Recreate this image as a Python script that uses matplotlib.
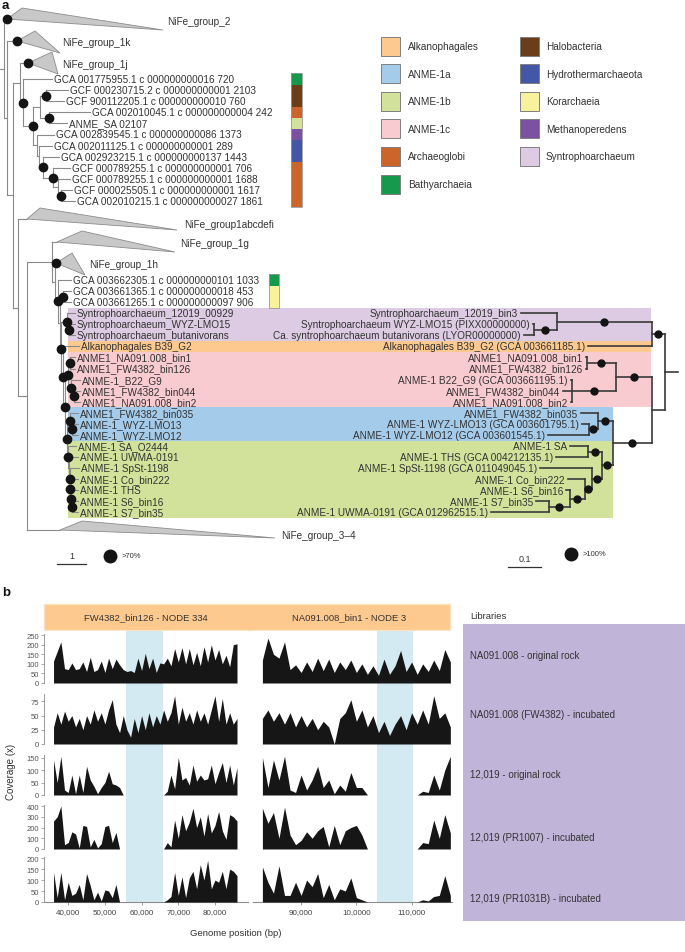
import numpy as np
import matplotlib
matplotlib.use('Agg')
import matplotlib.pyplot as plt
from matplotlib.patches import Rectangle, Polygon

plt.rcParams['font.family'] = ['Liberation Sans', 'DejaVu Sans']

# ------------------------------------------------------------------ data
tax_names = ['Alkanophagales', 'ANME-1a', 'ANME-1b', 'ANME-1c', 'Archaeoglobi', 'Bathyarchaeia',
             'Halobacteria', 'Hydrothermarchaeota', 'Korarchaeia', 'Methanoperedens', 'Syntrophoarchaeum']
tax_colors = ['#fdc98f', '#a4cbea', '#d3e29b', '#f8cbd0', '#cc6529', '#17994b',
              '#6b3d18', '#4357a6', '#f8f29c', '#7b52a2', '#dccbe2']
legend_col1 = tax_names[:6]
legend_col2 = tax_names[6:]

upper_leaves = ['GCA 001775955.1 c 000000000016 720', 'GCF 000230715.2 c 000000000001 2103',
                'GCF 900112205.1 c 000000000010 760', 'GCA 002010045.1 c 000000000004 242',
                'ANME_SA 02107', 'GCA 002839545.1 c 000000000086 1373',
                'GCA 002011125.1 c 000000000001 289', 'GCA 002923215.1 c 000000000137 1443',
                'GCF 000789255.1 c 000000000001 706', 'GCF 000789255.1 c 000000000001 1688',
                'GCF 000025505.1 c 000000000001 1617', 'GCA 002010215.1 c 000000000027 1861']
upper_tax = ['Bathyarchaeia', 'Halobacteria', 'Halobacteria', 'Archaeoglobi', 'ANME-1b',
             'Methanoperedens', 'Hydrothermarchaeota', 'Hydrothermarchaeota',
             'Archaeoglobi', 'Archaeoglobi', 'Archaeoglobi', 'Archaeoglobi']
lower_leaves = ['GCA 003662305.1 c 000000000101 1033', 'GCA 003661365.1 c 000000000018 453',
                'GCA 003661265.1 c 000000000097 906']
lower_tax = ['Bathyarchaeia', 'Korarchaeia', 'Korarchaeia']
clade_left = ['Syntrophoarchaeum_12019_00929', 'Syntrophoarchaeum_WYZ-LMO15',
              'Syntrophoarchaeum_butanivorans', 'Alkanophagales B39_G2',
              'ANME1_NA091.008_bin1', 'ANME1_FW4382_bin126', 'ANME-1_B22_G9',
              'ANME1_FW4382_bin044', 'ANME1_NA091.008_bin2', 'ANME1_FW4382_bin035',
              'ANME-1_WYZ-LMO13', 'ANME-1_WYZ-LMO12', 'ANME-1 SA_O2444', 'ANME-1 UWMA-0191',
              'ANME-1 SpSt-1198', 'ANME-1 Co_bin222', 'ANME-1 THS', 'ANME-1 S6_bin16',
              'ANME-1 S7_bin35']
clade_right = ['Syntrophoarchaeum_12019_bin3', 'Syntrophoarchaeum WYZ-LMO15 (PIXX00000000)',
               'Ca. syntrophoarchaeum butanivorans (LYOR00000000)',
               'Alkanophagales B39_G2 (GCA 003661185.1)', 'ANME1_NA091.008_bin1',
               'ANME1_FW4382_bin126', 'ANME-1 B22_G9 (GCA 003661195.1)', 'ANME1_FW4382_bin044',
               'ANME1_NA091.008_bin2', 'ANME1_FW4382_bin035', 'ANME-1 WYZ-LMO13 (GCA 003601795.1)',
               'ANME-1 WYZ-LMO12 (GCA 003601545.1)', 'ANME-1 SA', 'ANME-1 THS (GCA 004212135.1)',
               'ANME-1 SpSt-1198 (GCA 011049045.1)', 'ANME-1 Co_bin222', 'ANME-1 S6_bin16',
               'ANME-1 S7_bin35', 'ANME-1 UWMA-0191 (GCA 012962515.1)']
clade_groups = [('Syntrophoarchaeum', 0, 2), ('Alkanophagales', 3, 3), ('ANME-1c', 4, 8),
                ('ANME-1a', 9, 11), ('ANME-1b', 12, 18)]
collapsed = ['NiFe_group_2', 'NiFe_group_1k', 'NiFe_group_1j', 'NiFe_group1abcdefi',
             'NiFe_group_1g', 'NiFe_group_1h', 'NiFe_group_3\u20134']

panel_titles = ['FW4382_bin126 - NODE 334', 'NA091.008_bin1 - NODE 3']
libraries = ['NA091.008 - original rock', 'NA091.008 (FW4382) - incubated',
             '12,019 - original rock', '12,019 (PR1007) - incubated',
             '12,019 (PR1031B) - incubated']

pos_left = np.arange(36, 87) * 1000      # FW4382_bin126 contig positions (bp)
pos_right = np.arange(83, 118) * 1000    # NA091.008_bin1 contig positions (bp)
shade_left = (55700, 65800)
shade_right = (103700, 110300)
ticks_left = [40000, 50000, 60000, 70000, 80000]
ticklabels_left = ['40,000', '50,000', '60,000', '70,000', '80,000']
ticks_right = [90000, 100000, 110000]
ticklabels_right = ['90,000', '10,0000', '110,000']

cov_na_rock_L = [115, 165, 215, 75, 70, 105, 70, 75, 110, 60, 135, 60, 70, 115, 55, 130, 75, 125, 95,
                 70, 60, 65, 55, 130, 65, 155, 75, 130, 55, 105, 100, 130, 90, 180, 110, 185, 100,
                 180, 95, 160, 90, 190, 110, 200, 120, 175, 100, 145, 85, 200, 205]
cov_na_rock_R = [120, 235, 150, 130, 215, 70, 95, 55, 110, 60, 130, 65, 125, 55, 110, 70, 120, 55,
                 100, 45, 90, 40, 125, 45, 90, 170, 60, 110, 45, 100, 60, 120, 65, 175, 110]
cov_na_inc_L = [30, 55, 35, 58, 40, 50, 30, 45, 25, 50, 35, 60, 40, 55, 35, 60, 78, 35, 20, 50, 25,
                12, 45, 20, 50, 25, 55, 30, 50, 35, 60, 40, 55, 85, 35, 65, 40, 55, 35, 60, 40, 55,
                35, 60, 85, 40, 80, 35, 55, 35, 45]
cov_na_inc_R = [45, 60, 40, 55, 35, 55, 30, 50, 30, 45, 25, 40, 30, 0, 45, 55, 78, 40, 60, 30, 50,
                20, 40, 15, 35, 50, 25, 55, 35, 60, 35, 85, 45, 55, 30]
cov_12_rock_L = [140, 50, 155, 20, 10, 80, 5, 80, 10, 115, 60, 35, 5, 30, 50, 95, 45, 40, 30, 0, 0,
                 0, 0, 0, 0, 0, 0, 0, 0, 0, 0, 15, 80, 25, 150, 60, 70, 40, 120, 55, 80, 60, 65, 120,
                 45, 90, 130, 50, 120, 40, 110]
cov_12_rock_R = [150, 30, 140, 60, 155, 20, 10, 80, 20, 60, 115, 30, 60, 5, 40, 15, 90, 30, 30, 0,
                 0, 0, 0, 0, 0, 0, 0, 0, 0, 15, 10, 80, 20, 100, 155]
cov_pr1007_L = [260, 300, 400, 40, 60, 160, 140, 10, 220, 210, 20, 90, 10, 50, 210, 220, 60, 155,
                0, 0, 0, 0, 0, 0, 0, 0, 0, 0, 0, 0, 0, 60, 20, 270, 100, 320, 170, 250, 380, 200,
                300, 120, 330, 150, 220, 350, 170, 90, 320, 300, 260]
cov_pr1007_R = [380, 240, 340, 100, 390, 130, 40, 80, 160, 100, 170, 210, 20, 220, 40, 170, 200,
                220, 130, 0, 0, 0, 0, 0, 0, 0, 0, 0, 0, 60, 50, 270, 100, 320, 150]
cov_pr1031_L = [135, 20, 135, 10, 90, 30, 40, 80, 10, 130, 75, 10, 45, 5, 55, 50, 20, 80, 0, 0, 0,
                0, 0, 0, 0, 0, 0, 0, 0, 0, 0, 10, 25, 135, 30, 115, 20, 110, 140, 60, 170, 100, 190,
                60, 100, 90, 140, 60, 150, 140, 120]
cov_pr1031_R = [160, 90, 40, 165, 30, 30, 90, 30, 100, 70, 130, 20, 80, 10, 60, 50, 110, 20, 10, 0,
                0, 0, 0, 0, 0, 0, 0, 0, 0, 10, 5, 25, 30, 120, 30]
coverage = [(cov_na_rock_L, cov_na_rock_R), (cov_na_inc_L, cov_na_inc_R),
            (cov_12_rock_L, cov_12_rock_R), (cov_pr1007_L, cov_pr1007_R),
            (cov_pr1031_L, cov_pr1031_R)]
row_ymax = [256, 88, 160, 410, 205]
row_ticks = [[0, 50, 100, 150, 200, 250], [0, 25, 50, 75], [0, 50, 100, 150],
             [0, 100, 200, 300, 400], [0, 50, 100, 150, 200]]

# ------------------------------------------------------------------ figure
W, H = 685, 953
fig = plt.figure(figsize=(W / 100, H / 100), dpi=100)
ax = fig.add_axes([0, 0, 1, 1])
ax.set_xlim(0, W)
ax.set_ylim(H, 0)
ax.axis('off')

TXT = '#333333'
FS = 7.2
cmap = dict(zip(tax_names, tax_colors))

# row layout for tree
upper_rows = [80 + 11.1 * i for i in range(12)]
lower_rows = [281 + 11.07 * i for i in range(22)]
clade_rows = lower_rows[3:]

# clade background boxes
for name, i0, i1 in clade_groups:
    right = 651 if name in ('Syntrophoarchaeum', 'Alkanophagales', 'ANME-1c') else 613
    y0 = clade_rows[i0] - 5.53
    y1 = clade_rows[i1] + 5.53
    ax.add_patch(Rectangle((68, y0), right - 68, y1 - y0, fc=cmap[name], ec='none', zorder=0))

# taxonomy colour strips
def strip(x0, x1, rows, taxa):
    for r, t in zip(rows, taxa):
        ax.add_patch(Rectangle((x0, r - 5.55), x1 - x0, 11.1, fc=cmap[t], ec='none', zorder=1))
    ax.add_patch(Rectangle((x0, rows[0] - 5.55), x1 - x0, rows[-1] - rows[0] + 11.1,
                           fc='none', ec='#999999', lw=0.6, zorder=2))

strip(291, 302, upper_rows, upper_tax)
strip(269, 279, lower_rows[:3], lower_tax)

# ---------------- left tree
LINE_L = '#8a8a8a'
DOT = '#141414'

def Nd(x, ch, dot=False):
    return ('N', x, ch, dot)

def Lf(name, lx):
    return ('L', name, lx)

def Cl(name, apex, top, right, lx, ldy, dot):
    return ('C', name, apex, top, right, lx, ldy, dot)

UL = [Lf(n, x) for n, x in zip(upper_leaves, [54, 70, 66, 92, 69, 56, 54, 61, 72, 72, 74, 77])]
LL = [Lf(n, 73) for n in lower_leaves]
CL = [Lf(n, x) for n, x in zip(clade_left, [77, 77, 77, 81, 77, 77, 82, 82, 82, 80, 80, 80,
                                             78, 80, 81, 80, 80, 80, 80])]

left_tree = Nd(4, [
    Cl(collapsed[0], 7, (22, -11), (163, 11), 167, 2, True),
    Nd(7, [
        Cl(collapsed[1], 17, (35, -10), (60, 12), 62, 1, True),
        Nd(13, [
            Nd(20, [
                Cl(collapsed[2], 28, (52, -11), (58, 11), 62, 1, True),
                Nd(23, [
                    UL[0],
                    Nd(33, [
                        Nd(40, [Nd(46, [UL[1], UL[2]], True), Nd(49, [UL[3], UL[4]], True)]),
                        Nd(37, [UL[5], Nd(39, [UL[6], Nd(43, [UL[7], Nd(53, [UL[8], Nd(58, [UL[9],
                            Nd(61, [UL[10], UL[11]], True)])], True)], True)])]),
                    ], True),
                ], True),
            ]),
            Nd(18, [
                Cl(collapsed[3], 27, (40, -11), (177, 11), 184, 5, False),
                Nd(27, [
                    Nd(52, [
                        Cl(collapsed[4], 57, (82, -11), (175, 10), 180, 1, False),
                        Nd(55, [
                            Cl(collapsed[5], 56, (72, -10), (85, 12), 89, 1, True),
                            Nd(58, [
                                LL[0],
                                Nd(60, [
                                    Nd(63, [LL[1], LL[2]], True),
                                    Nd(61, [
                                        Nd(67, [CL[0], Nd(69, [CL[1], CL[2]], True)], True),
                                        Nd(63, [
                                            CL[3],
                                            Nd(65, [
                                                Nd(68, [Nd(70, [CL[4], CL[5]], True),
                                                        Nd(71, [CL[6], Nd(74, [CL[7], CL[8]], True)], True)], True),
                                                Nd(67, [
                                                    Nd(70, [CL[9], Nd(72, [CL[10], CL[11]], True)], True),
                                                    Nd(68, [CL[12], Nd(69, [CL[13], Nd(70, [CL[14],
                                                        Nd(70, [CL[15], Nd(71, [CL[16],
                                                            Nd(72, [CL[17], CL[18]], True)], True)], True)], True)])], True),
                                                ], True),
                                            ], True),
                                        ], True),
                                    ], True),
                                ]),
                            ], True),
                        ]),
                    ]),
                    Cl(collapsed[6], 60, (82, -9), (275, 8), 281, 5, False),
                ]),
            ]),
        ]),
    ]),
])

left_rows = [20, 42, 64] + upper_rows + [220, 243, 264] + lower_rows + [531]


def draw_left(node, px, it):
    kind = node[0]
    if kind == 'L':
        y = next(it)
        ax.plot([px, node[2] - 2], [y, y], color=LINE_L, lw=0.8, zorder=3)
        ax.text(node[2], y, node[1], ha='left', va='center', fontsize=FS, color=TXT, zorder=4)
        return y
    if kind == 'C':
        _, name, apex, top, right, lx, ldy, dot = node
        y = next(it)
        ax.plot([px, apex], [y, y], color=LINE_L, lw=0.8, zorder=3)
        ax.add_patch(Polygon([(apex, y), (top[0], y + top[1]), (right[0], y + right[1])],
                             closed=True, fc='#c8c8c8', ec='#8c8c8c', lw=0.6, zorder=3))
        ax.text(lx, y + ldy, name, ha='left', va='center', fontsize=FS, color=TXT, zorder=4)
        if dot:
            ax.plot(apex, y, 'o', ms=6, color=DOT, zorder=5)
        return y
    _, x, ch, dot = node
    ys = [draw_left(c, x, it) for c in ch]
    ax.plot([x, x], [min(ys), max(ys)], color=LINE_L, lw=0.8, zorder=3)
    y = (min(ys) + max(ys)) / 2
    ax.plot([px, x], [y, y], color=LINE_L, lw=0.8, zorder=3)
    if dot:
        ax.plot(x, y, 'o', ms=6, color=DOT, zorder=5)
    return y

draw_left(left_tree, 0, iter(left_rows))

# ---------------- right tree
LINE_R = '#3a3a3a'

def Rl(i, ex):
    return ('L', clade_right[i], ex)

RL = [Rl(i, ex) for i, ex in enumerate([518, 530, 521, 585, 583, 583, 568, 560, 568, 578, 579,
                                         545, 567, 553, 537, 565, 563, 533, 488])]
right_tree = Nd(665, [
    Nd(652, [Nd(557, [RL[0], Nd(534, [RL[1], RL[2]], True)], True), RL[3]], True),
    Nd(652, [
        Nd(616, [Nd(587, [RL[4], RL[5]], True), Nd(572, [RL[6], RL[7], RL[8]], True)], True),
        Nd(613, [
            Nd(598, [RL[9], Nd(589, [RL[10], RL[11]], True)], True),
            Nd(602, [Nd(588, [RL[12], RL[13]], True),
                     Nd(592, [RL[14], Nd(585, [RL[15], Nd(570, [RL[16],
                         Nd(549, [RL[17], RL[18]], True)], True)], True)], True)], True),
        ], True),
    ]),
])


def draw_right(node, px, it):
    if node[0] == 'L':
        y = next(it)
        ax.plot([node[2] + 3, px], [y, y], color=LINE_R, lw=1.2, zorder=3)
        ax.text(node[2], y, node[1], ha='right', va='center', fontsize=FS, color=TXT, zorder=4)
        return y
    _, x, ch, dot = node
    ys = [draw_right(c, x, it) for c in ch]
    ax.plot([x, x], [min(ys), max(ys)], color=LINE_R, lw=1.2, zorder=3)
    y = (min(ys) + max(ys)) / 2
    ax.plot([x, px], [y, y], color=LINE_R, lw=1.2, zorder=3)
    if dot:
        ax.plot((x + px) / 2, y, 'o', ms=5, color=DOT, zorder=5)
    return y

draw_right(right_tree, 678, iter(clade_rows))

# ---------------- legend
for col, (sx, tx) in zip([legend_col1, legend_col2], [(381, 408), (520, 546)]):
    for i, name in enumerate(col):
        yc = 47 + 27.6 * i
        ax.add_patch(Rectangle((sx, yc - 9.5), 19, 19, fc=cmap[name], ec='#7f7f7f', lw=0.7, zorder=3))
        ax.text(tx, yc, name, ha='left', va='center', fontsize=FS, color=TXT)

# ---------------- scale bars
ax.plot([57, 86], [565, 565], color='#333333', lw=0.9)
ax.text(71.5, 557, '1', ha='center', va='center', fontsize=6.5, color=TXT)
ax.plot(110, 557, 'o', ms=9, color=DOT)
ax.text(122, 557, '>70%', ha='left', va='center', fontsize=5.5, color=TXT)
ax.plot([508, 541], [568, 568], color='#333333', lw=0.9)
ax.text(524.5, 560, '0.1', ha='center', va='center', fontsize=6.5, color=TXT)
ax.plot(571, 555, 'o', ms=9, color=DOT)
ax.text(583, 555, '>100%', ha='left', va='center', fontsize=5.5, color=TXT)

ax.text(2, 6, 'a', ha='left', va='center', fontsize=9.5, fontweight='bold', color='#111111')
ax.text(2, 593, 'b', ha='left', va='center', fontsize=9.5, fontweight='bold', color='#111111')

# ---------------- panel b decorations
ax.add_patch(Rectangle((44, 605), 406, 26, fc='#fdc98f', ec='#fde2c0', lw=1.0))
ax.text(146, 618, panel_titles[0], ha='center', va='center', fontsize=6.8, color=TXT)
ax.text(349, 618, panel_titles[1], ha='center', va='center', fontsize=6.8, color=TXT)
ax.text(470, 617, 'Libraries', ha='left', va='center', fontsize=6.8, color=TXT)
ax.add_patch(Rectangle((463, 625), 222, 297, fc='#c1b4d9', ec='none'))
for yl, lab in zip([656, 715, 775, 838, 899], libraries):
    ax.text(470, yl, lab, ha='left', va='center', fontsize=7, color=TXT)
ax.text(11, 772, 'Coverage (x)', rotation=90, ha='center', va='center', fontsize=7, color=TXT)
ax.text(236, 934, 'Genome position (bp)', ha='center', va='center', fontsize=6.8, color=TXT)

# ---------------- coverage panels
def fig_rect(x0, y0, x1, y1):
    return [x0 / W, 1 - y1 / H, (x1 - x0) / W, (y1 - y0) / H]

rows_px = [(635, 684), (695, 745), (756, 796), (806, 850), (858, 903)]
cols = [dict(px=(44, 248), xlim=(33400, 89000), pos=pos_left, shade=shade_left,
             ticks=ticks_left, labels=ticklabels_left),
        dict(px=(253, 452), xlim=(81300, 117300), pos=pos_right, shade=shade_right,
             ticks=ticks_right, labels=ticklabels_right)]

for ci, c in enumerate(cols):
    x0, x1 = c['px']
    bg = fig.add_axes(fig_rect(x0, 632, x1, rows_px[-1][1]))
    bg.set_xlim(*c['xlim'])
    bg.set_ylim(0, 1)
    bg.axvspan(*c['shade'], color='#d3eaf2', lw=0)
    for s in ['top', 'right', 'left']:
        bg.spines[s].set_visible(False)
    bg.spines['bottom'].set_color('#8c8c8c')
    bg.spines['bottom'].set_linewidth(0.8)
    bg.set_yticks([])
    bg.set_xticks(c['ticks'])
    bg.set_xticklabels(c['labels'], fontsize=5.8, color='#444444')
    bg.tick_params(axis='x', length=2.5, width=0.6, color='#8c8c8c', pad=2)
    for ri, (top, zero) in enumerate(rows_px):
        a = fig.add_axes(fig_rect(x0, top, x1, zero))
        a.set_facecolor('none')
        a.set_xlim(*c['xlim'])
        a.set_ylim(0, row_ymax[ri])
        vals = coverage[ri][ci]
        a.fill_between(c['pos'], vals, 0, color='#161616', lw=0)
        a.plot([c['pos'][0], c['pos'][-1]], [0, 0], color='#9a9a9a', lw=0.7)
        a.set_xticks([])
        for s in ['top', 'right', 'bottom']:
            a.spines[s].set_visible(False)
        if ci == 0:
            a.spines['left'].set_color('#9a9a9a')
            a.spines['left'].set_linewidth(0.7)
            a.set_yticks(row_ticks[ri])
            a.set_yticklabels([str(t) for t in row_ticks[ri]], fontsize=5.5, color='#555555')
            a.tick_params(axis='y', length=2, width=0.6, color='#9a9a9a', pad=1.5)
        else:
            a.spines['left'].set_visible(False)
            a.set_yticks([])

fig.savefig('out.png', dpi=100)
